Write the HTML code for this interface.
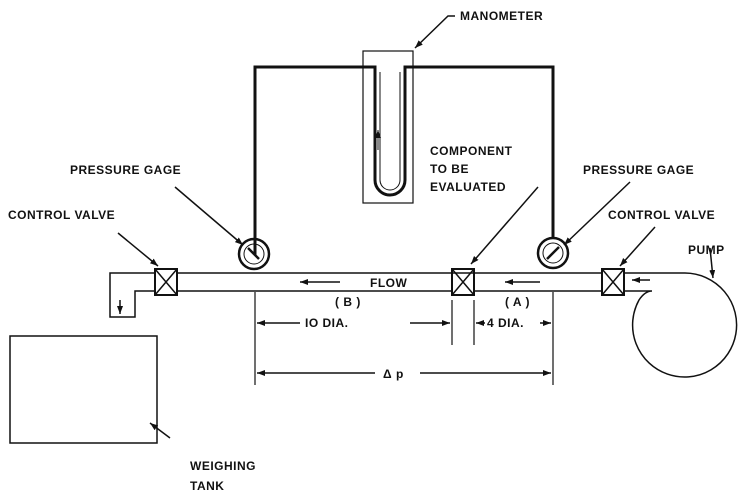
<!DOCTYPE html>
<html><head><style>body{margin:0;background:#fff}svg{display:block}text{font-family:"Liberation Sans",sans-serif;font-size:12px;font-weight:bold;fill:#111;letter-spacing:0.5px}</style></head>
<body>
<svg width="750" height="499" viewBox="0 0 750 499" xmlns="http://www.w3.org/2000/svg">
<defs><marker id="a" markerWidth="8" markerHeight="6" refX="8" refY="3" orient="auto" markerUnits="userSpaceOnUse"><path d="M0,0L8,3L0,6z" fill="#111"/></marker></defs>
<g stroke="#111" fill="none" stroke-width="1.5">
<rect x="363" y="51" width="50" height="152" stroke-width="1.2"/>
<path d="M255,255 V67 H375 V180 A15,15 0 0 0 405,180 V67 H553 V237" stroke-width="3"/>
<path d="M380,72 V180 A10,10 0 0 0 400,180 V72" stroke-width="1"/>
<line x1="378" y1="150" x2="378" y2="130" marker-end="url(#a)" stroke-width="1"/>
<path d="M155,273 H110 V317 H135 V291 H155"/>
<line x1="120" y1="300" x2="120" y2="314" marker-end="url(#a)"/>
<line x1="177" y1="273" x2="602" y2="273"/>
<line x1="177" y1="291" x2="452" y2="291"/>
<line x1="474" y1="291" x2="602" y2="291"/>
<path d="M624,273 H685 A52,52 0 1 1 639,300 Q645,291 652,291 H624"/>
<rect x="155" y="269" width="22" height="26" stroke-width="2"/><path d="M155,269 L177,295 M177,269 L155,295"/>
<rect x="452" y="269" width="22" height="26" stroke-width="2"/><path d="M452,269 L474,295 M474,269 L452,295"/>
<rect x="602" y="269" width="22" height="26" stroke-width="2"/><path d="M602,269 L624,295 M624,269 L602,295"/>
<circle cx="254" cy="254" r="15" stroke-width="2.5"/><circle cx="254" cy="254" r="10" stroke-width="1"/>
<line x1="248" y1="248" x2="259" y2="259" stroke-width="2.5"/>
<circle cx="553" cy="253" r="15" stroke-width="2.5"/><circle cx="553" cy="253" r="10" stroke-width="1"/>
<line x1="547" y1="259" x2="559" y2="247" stroke-width="2.5"/>
<line x1="340" y1="282" x2="300" y2="282" marker-end="url(#a)"/>
<line x1="540" y1="282" x2="505" y2="282" marker-end="url(#a)"/>
<line x1="650" y1="280" x2="632" y2="280" marker-end="url(#a)"/>
<path d="M255,292 V385 M553,292 V385 M452,300 V345 M474,300 V345" stroke-width="1.2"/>
<line x1="300" y1="323" x2="257" y2="323" marker-end="url(#a)"/>
<line x1="410" y1="323" x2="450" y2="323" marker-end="url(#a)"/>
<line x1="485" y1="323" x2="476" y2="323" marker-end="url(#a)"/>
<line x1="540" y1="323" x2="551" y2="323" marker-end="url(#a)"/>
<line x1="375" y1="373" x2="257" y2="373" marker-end="url(#a)"/>
<line x1="420" y1="373" x2="551" y2="373" marker-end="url(#a)"/>
<rect x="10" y="336" width="147" height="107"/>
<line x1="170" y1="438" x2="150" y2="423" marker-end="url(#a)"/>
<line x1="118" y1="233" x2="158" y2="266" marker-end="url(#a)"/>
<line x1="175" y1="187" x2="243" y2="245" marker-end="url(#a)"/>
<line x1="538" y1="187" x2="471" y2="264" marker-end="url(#a)"/>
<line x1="630" y1="182" x2="564" y2="245" marker-end="url(#a)"/>
<line x1="655" y1="227" x2="620" y2="266" marker-end="url(#a)"/>
<line x1="710" y1="248" x2="713" y2="278" marker-end="url(#a)"/>
<path d="M455,16 H448 L415,48" marker-end="url(#a)"/>
</g>
<text x="460" y="20">MANOMETER</text>
<text x="430" y="155">COMPONENT</text>
<text x="430" y="173">TO BE</text>
<text x="430" y="191">EVALUATED</text>
<text x="70" y="174">PRESSURE GAGE</text>
<text x="583" y="174">PRESSURE GAGE</text>
<text x="8" y="219">CONTROL VALVE</text>
<text x="608" y="219">CONTROL VALVE</text>
<text x="688" y="254">PUMP</text>
<text x="370" y="287">FLOW</text>
<text x="335" y="306">( B )</text>
<text x="305" y="327">IO DIA.</text>
<text x="505" y="306">( A )</text>
<text x="487" y="327">4 DIA.</text>
<text x="383" y="378">Δ p</text>
<text x="190" y="470">WEIGHING</text>
<text x="190" y="490">TANK</text>
</svg>
</body></html>
